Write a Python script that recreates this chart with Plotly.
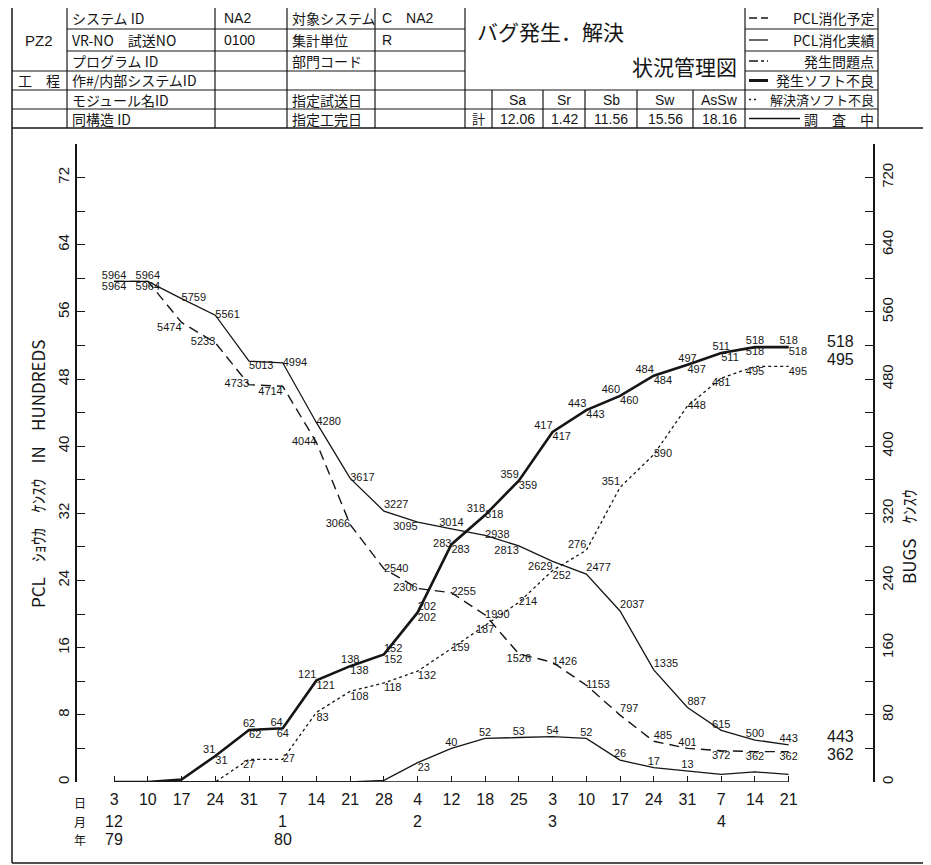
import plotly.graph_objects as go

# ---------------- data ----------------
days = ["3", "10", "17", "24", "31", "7", "14", "21", "28", "4", "12",
        "18", "25", "3", "10", "17", "24", "31", "7", "14", "21"]
month_idx = [0, 5, 9, 13, 18]
month_lbl = ["12", "1", "2", "3", "4"]
year_idx = [0, 5]
year_lbl = ["79", "80"]

pcl_plan = [5964, 5964, 5474, 5233, 4733, 4714, 4044, 3066, 2540, 2306, 2255,
            1990, 1526, 1426, 1153, 797, 485, 401, 372, 362, 362]
pcl_actual = [5964, 5964, 5759, 5561, 5013, 4994, 4280, 3617, 3227, 3095, 3014,
              2938, 2813, 2629, 2477, 2037, 1335, 887, 615, 500, 443]
bugs_found = [0, 0, 3, 31, 62, 64, 121, 138, 152, 202, 283,
              318, 359, 417, 443, 460, 484, 497, 511, 518, 518]
problems_found = [0, 0, 3, 31, 62, 64, 121, 138, 152, 202, 283,
                  318, 359, 417, 443, 460, 484, 497, 511, 518, 518]
bugs_resolved = [0, 0, 0, 0, 27, 27, 83, 108, 118, 132, 159,
                 187, 214, 252, 276, 351, 390, 448, 481, 495, 495]
bugs_open = [0, 0, 0, 0, 0, 0, 0, 0, 2, 23, 40,
             52, 53, 54, 52, 26, 17, 13, 9, 12, 9]

stat_names = ["Sa", "Sr", "Sb", "Sw", "AsSw"]
stat_values = ["12.06", "1.42", "11.56", "15.56", "18.16"]

# which points carry printed labels
found_lbl_from = 3
resolved_lbl_from = 4
open_lbl_range = (9, 17)

INK = "#161616"
LAT = "Liberation Sans, Noto Sans CJK JP"
CJK = "Noto Sans CJK JP, Liberation Sans"

xs = list(range(len(days)))

# ---------------- label placement (style) ----------------
pos_actual = ["top center", "top center", "middle right", "middle right", "bottom right",
              "middle right", "middle right", "middle right", "top right", "bottom left",
              "top center", "middle right", "bottom left", "bottom left", "top right",
              "top right", "top right", "top right", "top center", "top center", "top center"]
pos_plan = ["bottom center", "bottom center", "bottom left", "middle left", "middle left",
            "bottom left", "middle left", "middle left", "middle right", "middle left",
            "middle right", "middle right", "bottom center", "middle right", "middle right",
            "top right", "top right", "top center", "bottom center", "bottom center", "bottom center"]
pos_found = ["top center"] * 3 + ["top left", "top center", "top left", "top left", "top center",
             "top right", "top right", "middle left", "top left", "top left", "top left",
             "top left", "top left", "top left", "top center", "top center", "top center", "top center"]
pos_problem = ["bottom center"] * 3 + ["bottom right", "bottom right", "bottom center", "bottom right",
               "bottom right", "bottom right", "bottom right", "bottom right", "middle right",
               "bottom right", "bottom right", "bottom right", "bottom right", "bottom right",
               "bottom right", "bottom right", "bottom center", "bottom right"]
pos_resolved = ["bottom center"] * 4 + ["bottom center", "middle right", "bottom right", "bottom right",
                "bottom right", "bottom right", "middle right", "bottom center", "middle right",
                "bottom right", "top left", "top left", "middle right", "middle right",
                "bottom center", "bottom center", "bottom right"]
pos_open = ["top center"] * 9 + ["bottom right"] + ["top center"] * 11

fig = go.Figure()
lblfont = dict(family=LAT, size=11, color=INK)


def lbls(vals, start=0, stop=None):
    stop = len(vals) - 1 if stop is None else stop
    return [str(v) if start <= i <= stop else "" for i, v in enumerate(vals)]


fig.add_trace(go.Scatter(x=xs, y=[v / 100 for v in pcl_plan], mode="lines+text",
                         line=dict(color=INK, width=1.4, dash="10px,6px"),
                         text=lbls(pcl_plan), textposition=pos_plan, textfont=lblfont,
                         yaxis="y", cliponaxis=False))
fig.add_trace(go.Scatter(x=xs, y=[v / 100 for v in pcl_actual], mode="lines+text",
                         line=dict(color=INK, width=1.3),
                         text=lbls(pcl_actual), textposition=pos_actual, textfont=lblfont,
                         yaxis="y", cliponaxis=False))
fig.add_trace(go.Scatter(x=xs, y=bugs_open, mode="lines+text",
                         line=dict(color=INK, width=1.3),
                         text=lbls(bugs_open, *open_lbl_range), textposition=pos_open,
                         textfont=lblfont, yaxis="y2", cliponaxis=False))
fig.add_trace(go.Scatter(x=xs, y=bugs_resolved, mode="lines+text",
                         line=dict(color=INK, width=1.3, dash="3px,3px"),
                         text=lbls(bugs_resolved, resolved_lbl_from), textposition=pos_resolved,
                         textfont=lblfont, yaxis="y2", cliponaxis=False))
fig.add_trace(go.Scatter(x=xs, y=problems_found, mode="lines+text",
                         line=dict(color=INK, width=1.2, dash="dashdot"),
                         text=lbls(problems_found, found_lbl_from), textposition=pos_problem,
                         textfont=lblfont, yaxis="y2", cliponaxis=False))
fig.add_trace(go.Scatter(x=xs, y=bugs_found, mode="lines+text",
                         line=dict(color=INK, width=2.6),
                         text=lbls(bugs_found, found_lbl_from), textposition=pos_found,
                         textfont=lblfont, yaxis="y2", cliponaxis=False))

# ---------------- geometry helpers (screen pixels -> paper) ----------------
PAGE_OFF = 8            # browser default body margin
L, R, T, B = 77, 873, 144, 782   # plot area in screen pixels
PW, PH = R - L, B - T
FIG_W, FIG_H = 931 - PAGE_OFF, 865 - PAGE_OFF


def X(px):
    return (px - L) / PW


def Y(py):
    return (B - py) / PH


shapes = []


def seg(x0, y0, x1, y1, w=1.2, dash=None):
    ln = dict(color=INK, width=w)
    if dash:
        ln["dash"] = dash
    shapes.append(dict(type="line", xref="paper", yref="paper",
                       x0=X(x0), y0=Y(y0), x1=X(x1), y1=Y(y1), line=ln))


annots = []


def txt(px, py, s, size=14, anchor="left", fam=CJK, angle=0):
    annots.append(dict(xref="paper", yref="paper", x=X(px), y=Y(py), text=s,
                       showarrow=False, xanchor=anchor, yanchor="middle",
                       textangle=angle, font=dict(family=fam, size=size, color=INK)))


# outer frame
seg(12, 7, 927, 7, 1.5)
seg(12, 863, 927, 863, 1.5)
seg(12, 7, 12, 863, 1.5)
seg(927, 7, 927, 863, 1.5)
seg(12, 128, 927, 128, 1.5)

rows = [7, 29, 51, 71, 90, 109, 128]
for xv in [67, 215, 287, 375, 465, 745, 878]:
    seg(xv, 7, xv, 128)
seg(12, 71, 67, 71)
seg(12, 90, 67, 90)
seg(12, 109, 67, 109)
for ry in rows[1:-1]:
    seg(67, ry, 465, ry)
    seg(745, ry, 878, ry)
seg(465, 90, 745, 90)
seg(465, 109, 745, 109)
stat_cols = [465, 492, 543, 585, 637, 693, 745]
for xv in stat_cols[1:-1]:
    seg(xv, 90, xv, 128)

cen = [(rows[i] + rows[i + 1]) / 2 for i in range(6)]
txt(39, 40, "PZ2", 15, "center", LAT)
txt(39, cen[3], "工　程", 14, "center")
colB = ["システム ID", "VR-NO　試送NO", "プログラム ID", "作#/内部システムID", "モジュール名ID", "同構造 ID"]
for i, s in enumerate(colB):
    txt(70, cen[i], s, 14)
txt(222, cen[0], "NA2", 14, fam=LAT)
txt(222, cen[1], "0100", 14, fam=LAT)
colD = ["対象システム", "集計単位", "部門コード", "", "指定試送日", "指定工完日"]
for i, s in enumerate(colD):
    if s:
        txt(290, cen[i], s, 14)
txt(380, cen[0], "C　NA2", 14, fam=LAT)
txt(380, cen[1], "R", 14, fam=LAT)

txt(550, 31, "バグ発生．解決", 21, "center")
txt(684, 66, "状況管理図", 21, "center")

for i, (nm, v) in enumerate(zip(stat_names, stat_values)):
    cx = (stat_cols[i + 1] + stat_cols[i + 2]) / 2
    txt(cx, cen[4], nm, 14, "center", LAT)
    txt(cx, cen[5], v, 14, "center", LAT)
txt(478, cen[5], "計", 13, "center")

leg_text = ["PCL消化予定", "PCL消化実績", "発生問題点", "発生ソフト不良", "解決済ソフト不良", "調　査　中"]
leg_style = [("8px,4px", 1.3, 768), (None, 1.3, 768), ("dashdot", 1.3, 768),
             (None, 3, 768), ("2px,3px", 1.3, 759), (None, 1.3, 800)]
for i, (s, (d, w, xe)) in enumerate(zip(leg_text, leg_style)):
    seg(749, cen[i], xe, cen[i], w, d)
    txt(876, cen[i], s, 14 if i != 4 else 13, "right")

# x-axis base line (from first to last date)
shapes.append(dict(type="line", xref="x", yref="y", x0=xs[0], x1=xs[-1], y0=0, y1=0,
                   line=dict(color=INK, width=1.5)))

# month / year rows and row captions
for i, s in zip(month_idx, month_lbl):
    annots.append(dict(xref="x", yref="paper", x=i, y=Y(822), text=s, showarrow=False,
                       xanchor="center", yanchor="middle", font=dict(family=LAT, size=16, color=INK)))
for i, s in zip(year_idx, year_lbl):
    annots.append(dict(xref="x", yref="paper", x=i, y=Y(839), text=s, showarrow=False,
                       xanchor="center", yanchor="middle", font=dict(family=LAT, size=16, color=INK)))
for py, s in zip([803, 821, 839], ["日", "月", "年"]):
    txt(80, py, s, 12, "center")

# axis titles
sp = "\u00a0\u00a0\u00a0\u00a0"
txt(38, 474, "PCL" + sp + "ｼｮｳｶ" + sp + "ｹﾝｽｳ" + sp + "IN" + sp + "HUNDREDS", 17, "center", CJK, -90)
txt(908, 537, "BUGS" + sp + "ｹﾝｽｳ", 17, "center", CJK, -90)

# final values at right end
end_vals = [(bugs_found[-1], "y2", 6), (bugs_resolved[-1], "y2", 7),
            (pcl_actual[-1] / 100, "y", 8), (pcl_plan[-1] / 100, "y", -3)]
end_txt = [bugs_found[-1], bugs_resolved[-1], pcl_actual[-1], pcl_plan[-1]]
for (yv, yr, sh), t in zip(end_vals, end_txt):
    annots.append(dict(xref="x", yref=yr, x=21.55, y=yv, yshift=sh, text=str(t), showarrow=False,
                       xanchor="center", yanchor="middle", font=dict(family=LAT, size=16, color=INK)))

fig.update_layout(
    width=FIG_W, height=FIG_H, template="none",
    margin=dict(l=L - PAGE_OFF, r=FIG_W - (R - PAGE_OFF), t=T - PAGE_OFF,
                b=FIG_H - (B - PAGE_OFF), pad=0),
    paper_bgcolor="white", plot_bgcolor="white", showlegend=False,
    font=dict(family=LAT, color=INK),
    xaxis=dict(range=[-1.1, 22.5], tickvals=xs, ticktext=days, showline=False,
               ticks="inside", ticklen=6, tickwidth=1.3, tickcolor=INK, showgrid=False,
               zeroline=False, tickfont=dict(family=LAT, size=16, color=INK),
               ticklabelstandoff=6, automargin=False),
    yaxis=dict(range=[0, 76], tickvals=list(range(0, 73, 8)), showline=True, linecolor=INK,
               linewidth=1.5, ticks="inside", ticklen=8, tickwidth=1.3, tickcolor=INK,
               minor=dict(tickvals=list(range(4, 77, 8)), ticks="inside", ticklen=8,
                          tickwidth=1.3, tickcolor=INK),
               showgrid=False, zeroline=False, tickangle=-90,
               tickfont=dict(family=LAT, size=15, color=INK), automargin=False),
    yaxis2=dict(range=[0, 760], tickvals=list(range(0, 721, 80)), overlaying="y", side="right",
                showline=True, linecolor=INK, linewidth=1.5, ticks="inside", ticklen=8,
                tickwidth=1.3, tickcolor=INK,
                minor=dict(tickvals=list(range(40, 761, 80)), ticks="inside", ticklen=8,
                           tickwidth=1.3, tickcolor=INK),
                showgrid=False, zeroline=False, tickangle=-90,
                tickfont=dict(family=LAT, size=15, color=INK), automargin=False),
    shapes=shapes, annotations=annots,
)

fig.write_html("out.html")
